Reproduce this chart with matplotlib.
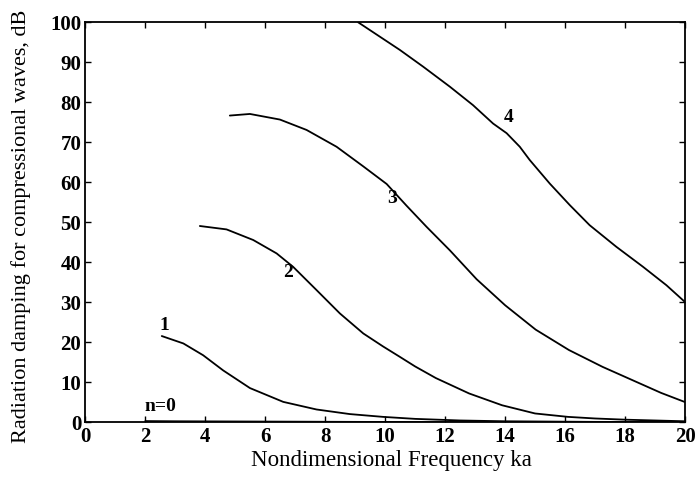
import numpy as np
import matplotlib.pyplot as plt

# -----------------------------
# DATA
# -----------------------------
ka_0 = [2.0, 3, 5, 7, 9, 12, 15, 20]
db_0 = [0.35, 0.3, 0.25, 0.2, 0.15, 0.1, 0.05, 0.02]

ka_1 = [2.55, 3.27, 3.93, 4.6, 5.49, 6.6, 7.71, 8.82, 9.93, 11.0, 12.5, 14.0, 17.0, 20.0]
db_1 = [21.6, 19.75, 16.8, 13.0, 8.6, 5.15, 3.25, 2.1, 1.4, 0.9, 0.5, 0.3, 0.15, 0.1]

ka_2 = [3.82, 4.71, 5.6, 6.38, 6.93, 7.71, 8.49, 9.27, 9.93, 10.49, 11.0,
        11.69, 12.8, 13.9, 15.0, 16.1, 17.0, 18.0, 20.0]
db_2 = [49.1, 48.25, 45.6, 42.25, 38.9, 33.1, 27.25, 22.25, 19.0, 16.4, 14.0,
        11.1, 7.25, 4.3, 2.25, 1.4, 1.0, 0.7, 0.3]

ka_3 = [4.82, 5.49, 6.49, 7.38, 8.38, 9.27, 10.05, 10.71, 11.38, 12.16, 13.05,
        14.0, 15.02, 16.13, 17.25, 18.36, 19.2, 20.0]
db_3 = [76.7, 77.1, 75.7, 73.1, 68.9, 64.0, 59.6, 54.2, 48.9, 43.0, 35.8,
        29.3, 23.2, 18.1, 13.9, 10.2, 7.4, 5.1]

ka_4 = [9.1, 10.49, 11.27, 12.16, 12.93, 13.6, 14.05, 14.49, 14.82, 15.49,
        16.16, 16.82, 17.71, 18.6, 19.38, 20.0]
db_4 = [100.0, 93.1, 88.9, 83.9, 79.3, 74.7, 72.3, 68.9, 65.6, 59.7,
        54.3, 49.3, 43.9, 38.9, 34.3, 30.1]

curve_labels = ["n=0", "1", "2", "3", "4"]
label_x = [2.5, 2.62, 6.75, 10.22, 14.13]
label_y = [4.1, 24.2, 37.5, 56.0, 76.3]

# -----------------------------
# PLOT
# -----------------------------
plt.rcParams["font.family"] = ["Liberation Serif", "DejaVu Serif"]

fig = plt.figure(figsize=(6.97, 4.79), dpi=100)
ax = fig.add_axes([0.1224, 0.118, 0.8604, 0.8354])

for xs, ys in [(ka_0, db_0), (ka_1, db_1), (ka_2, db_2), (ka_3, db_3), (ka_4, db_4)]:
    ax.plot(xs, ys, color="black", lw=1.3, solid_joinstyle="round",
            solid_capstyle="round")

for txt, lx, ly in zip(curve_labels, label_x, label_y):
    ax.text(lx, ly, txt, fontsize=14, fontweight="bold", ha="center", va="center")

ax.set_xlim(0, 20)
ax.set_ylim(0, 100)
ax.set_xticks(np.arange(0, 21, 2))
ax.set_yticks(np.arange(0, 101, 10))
ax.tick_params(direction="in", length=4, width=1, top=True, right=True,
               labelsize=15, pad=3)
for lab in ax.get_xticklabels() + ax.get_yticklabels():
    lab.set_fontweight("bold")
for sp in ax.spines.values():
    sp.set_linewidth(1.3)

ax.set_xlabel("Nondimensional Frequency ka", fontsize=16.5)
ax.set_ylabel("Radiation damping for compressional waves, dB", fontsize=16)
ax.xaxis.set_label_coords(0.511, -0.068)
ax.yaxis.set_label_coords(-0.09, 0.49)

plt.savefig("out.png", dpi=100)
